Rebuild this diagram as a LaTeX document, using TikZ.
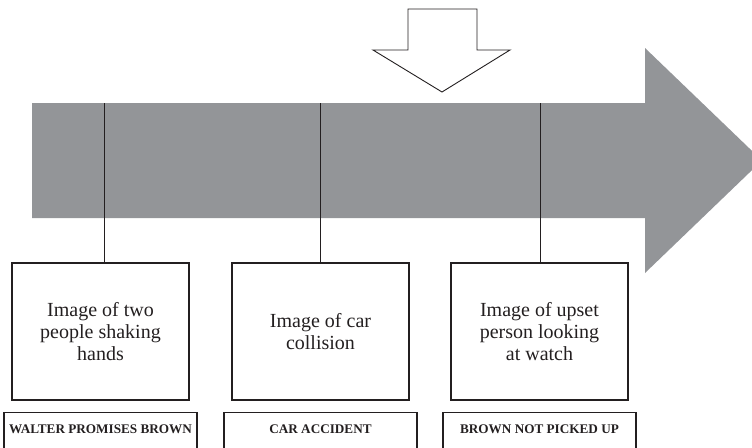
\documentclass[tikz,border=0pt]{standalone}
\usepackage{fontspec}
\setmainfont{Liberation Serif}
\definecolor{arrowgray}{RGB}{147,149,152}
\definecolor{linegray}{RGB}{35,31,32}
\begin{document}
\begin{tikzpicture}[x=1pt,y=-1pt,
  imgbox/.style={draw=linegray,line width=1.2pt,minimum width=177pt,minimum height=137pt,inner sep=0pt,align=center,font=\fontsize{20}{22}\selectfont,text=linegray},
  lblbox/.style={draw=linegray,line width=1.2pt,minimum width=193pt,inner xsep=0pt,inner ysep=0pt,text height=21pt,text depth=27pt,anchor=north,font=\fontsize{13.2}{15}\selectfont\bfseries,text=linegray},
  conn/.style={draw=linegray,line width=0.9pt}]
\useasboundingbox (0,0) rectangle (752,447);
\begin{scope}
\clip (0,0) rectangle (752,447);
\fill[arrowgray] (32,103) -- (645,103) -- (645,48) -- (762,160.5) -- (645,273) -- (645,218) -- (32,218) -- cycle;
\draw[linegray,line width=0.9pt,fill=white] (408,9) -- (477,9) -- (477,50) -- (510,50) -- (442,92) -- (373,50) -- (408,50) -- cycle;
\node[imgbox] (i1) at (100.5,331.5) {Image of two\\people shaking\\hands};
\node[imgbox] (i2) at (320.5,331.5) {Image of car\\collision};
\node[imgbox] (i3) at (539.5,331.5) {Image of upset\\person looking\\at watch};
\node[lblbox] (l1) at (100.5,412) {WALTER PROMISES BROWN};
\node[lblbox] (l2) at (320.5,412) {CAR ACCIDENT};
\node[lblbox] (l3) at (539.5,412) {BROWN NOT PICKED UP};
\coordinate (t1) at (104,103);
\coordinate (t2) at (320,103);
\coordinate (t3) at (540,103);
\draw[conn] (t1) -- (t1 |- i1.north);
\draw[conn] (t2) -- (t2 |- i2.north);
\draw[conn] (t3) -- (t3 |- i3.north);
\end{scope}
\end{tikzpicture}
\end{document}
